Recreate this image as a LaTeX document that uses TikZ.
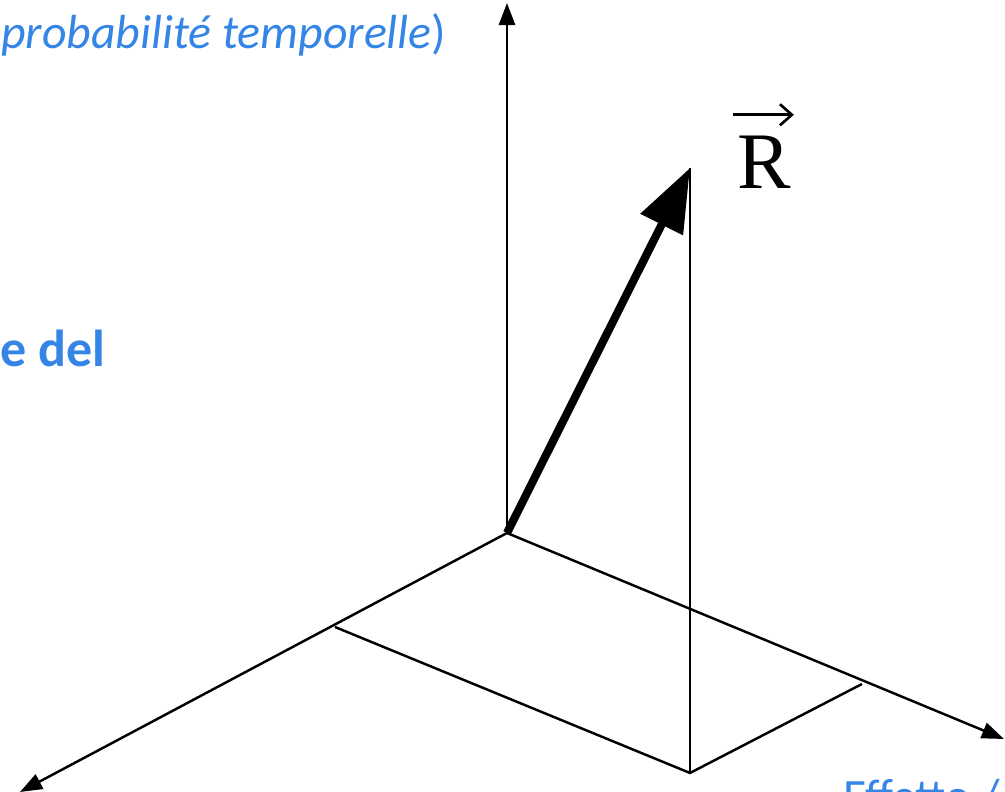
\documentclass[tikz,border=0pt]{standalone}
\usepackage{fontspec}
\usetikzlibrary{arrows.meta}
\newfontfamily\labelfont{Carlito}
\newfontfamily\vecfont{Liberation Serif}
\definecolor{axisblue}{RGB}{52,133,230}

\tikzstyle{axis}=[line width=0.7pt, -{Triangle[length=6.3pt, width=4.6pt]}]
\tikzstyle{resultant}=[line width=2.3pt, -{Triangle[length=18pt, width=13pt]}]
\tikzstyle{guide}=[line width=0.7pt]
\tikzstyle{vec arrow}=[line width=0.75pt, -{Straight Barb[length=3.4pt, width=6pt]}]
\tikzstyle{blue label}=[inner sep=0pt, text=axisblue, font=\labelfont\fontsize{13.6}{16}\selectfont]

\begin{document}
\begin{tikzpicture}[x=0.01cm, y=-0.01cm]
	\useasboundingbox (0,0) rectangle (1005,792);
	\clip (0,0) rectangle (1005,792);

	% Origin and axis ends
	\coordinate (O) at (507,533);
	\coordinate (up) at (507,3);
	\coordinate (left) at (20,792);
	\coordinate (right) at (1004,739);

	% Tip of the vector and its projection on the base plane
	\coordinate (R) at (690,168);
	\coordinate (foot) at (690,773);
	\coordinate (onleft) at (335,627);
	\coordinate (onright) at (862,684);

	\draw[axis] (O) -- (up);
	\draw[axis] (O) -- (left);
	\draw[axis] (O) -- (right);

	\draw[guide] (onleft) -- (foot) -- (onright);
	\draw[guide] (R) -- (foot);
	\draw[resultant] (O) -- (R);

	% Label of the vector, arrow drawn over the letter
	\node[inner sep=0pt, anchor=base west, font=\vecfont\fontsize{22.8}{26}\selectfont] (Rlabel) at (737,189) {R};
	\draw[vec arrow] ([shift={(-4,-21)}]Rlabel.north west) -- ([shift={(2,-21)}]Rlabel.north east);

	\node[blue label, anchor=base east] (probtext) at (447,49) {\textit{probabilité temporelle})};
	\node[blue label, anchor=base east, font=\labelfont\bfseries\fontsize{14.8}{17}\selectfont] (deltext) at (106,367) {e del};
	\node[blue label, anchor=base west] (effetto) at (843,813) {Effetto /};
\end{tikzpicture}
\end{document}
